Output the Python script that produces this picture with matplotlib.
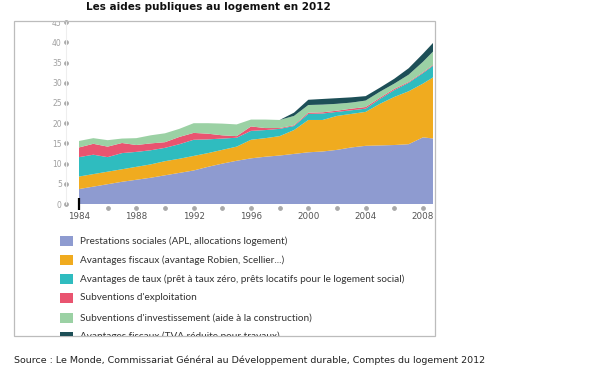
import matplotlib
matplotlib.use("Agg")
import matplotlib.pyplot as plt
from matplotlib.patches import Rectangle
from matplotlib.transforms import Bbox, TransformedBbox
import numpy as np

years = list(range(1984, 2010))
# cumulative tops
top_prest = [3.7, 4.3, 4.9, 5.5, 6.0, 6.5, 7.1, 7.7, 8.3, 9.2, 10.0, 10.7, 11.3, 11.7, 12.0,
             12.4, 12.8, 13.0, 13.4, 14.0, 14.4, 14.5, 14.6, 14.8, 16.5, 16.1]
top_fisc = [6.8, 7.4, 8.0, 8.6, 9.2, 9.8, 10.6, 11.2, 11.9, 12.6, 13.4, 14.2, 15.9, 16.3, 16.8,
            18.3, 20.8, 20.8, 21.8, 22.3, 22.8, 24.8, 26.5, 27.9, 29.8, 32.0]
top_taux = [11.6, 12.2, 11.6, 12.6, 12.9, 13.3, 13.9, 14.8, 15.9, 16.0, 16.2, 16.4, 18.1, 18.3, 18.6,
            19.3, 22.3, 22.4, 22.8, 23.2, 23.6, 26.0, 28.2, 30.0, 32.4, 35.0]
top_expl = [14.0, 14.9, 14.2, 15.1, 14.6, 15.0, 15.3, 16.6, 17.6, 17.4, 17.0, 16.8, 19.2, 18.8, 18.8,
            19.5, 22.6, 22.7, 23.1, 23.6, 24.0, 26.3, 28.5, 30.2, 32.6, 35.2]
top_inv = [15.6, 16.3, 15.8, 16.2, 16.3, 17.0, 17.5, 18.6, 20.0, 20.0, 19.9, 19.7, 20.9, 20.9, 20.8,
           21.8, 24.5, 24.6, 24.8, 25.1, 25.6, 27.8, 29.8, 32.0, 35.2, 38.8]
top_tva = [15.6, 16.3, 15.8, 16.2, 16.3, 17.0, 17.5, 18.6, 20.0, 20.0, 19.9, 19.7, 20.9, 20.9, 20.8,
           22.6, 25.8, 26.0, 26.2, 26.4, 26.7, 28.8, 31.0, 33.6, 37.2, 41.0]

labels = ["Prestations sociales (APL, allocations logement)",
          "Avantages fiscaux (avantage Robien, Scellier...)",
          "Avantages de taux (prêt à taux zéro, prêts locatifs pour le logement social)",
          "Subventions d'exploitation",
          "Subventions d'investissement (aide à la construction)",
          "Avantages fiscaux (TVA réduite pour travaux)"]
colors = ["#8e9bd0", "#f0ab1f", "#2fbcbf", "#e95470", "#9bd1a4", "#1d4f57"]

tops = np.array([top_prest, top_fisc, top_taux, top_expl, top_inv, top_tva])
layers = np.diff(np.vstack([np.zeros(len(years)), tops]), axis=0)

W, H = 592, 375
fig = plt.figure(figsize=(W / 100, H / 100), dpi=100)

def fx(px):
    return px / W

def fy(py):
    return 1 - py / H

x0, x1 = 79, 433
y0, y1 = 204, 204 - 45 * 4.04
ax = fig.add_axes([fx(x0), fy(y0), fx(x1) - fx(x0), fy(y1) - fy(y0)])
ax.stackplot(years, layers, colors=colors, linewidth=0)
ax.set_xlim(1984, 2008.7)
ax.set_ylim(0, 45)

for s in ["top", "right"]:
    ax.spines[s].set_visible(False)
ax.spines["bottom"].set_visible(False)
ax.spines["left"].set_position(("outward", 9.4))
ax.spines["left"].set_color("#eeeeee")
ax.spines["left"].set_linewidth(0.8)
ax.spines["bottom"].set_position(("outward", 3))

ax.set_yticks(range(0, 50, 5))
ax.set_yticklabels([str(v) for v in range(0, 50, 5)])
ax.tick_params(axis="y", length=0, pad=3, labelsize=5.5, labelcolor="#a0a0a0")
for t in ax.yaxis.get_major_ticks():
    t.tick1line.set_marker("o")
    t.tick1line.set_markersize(2.6)
    t.tick1line.set_markerfacecolor("#a8a8a8")
    t.tick1line.set_markeredgecolor("#a8a8a8")

xt = list(range(1984, 2010, 2))
ax.set_xticks(xt)
ax.set_xticklabels([str(v) if (v - 1984) % 4 == 0 else "" for v in xt])
ax.tick_params(axis="x", length=0, pad=3, labelsize=6.3, labelcolor="#555555")
for v, t in zip(xt, ax.xaxis.get_major_ticks()):
    t.tick1line.set_marker("o")
    t.tick1line.set_markersize(2.6)
    c = "#a8a8a8" if v != 1984 else (0, 0, 0, 0)
    t.tick1line.set_markerfacecolor(c)
    t.tick1line.set_markeredgecolor(c)

ax.plot([1984, 1984], [-1.5, 1.5], color="black", lw=1.6, clip_on=False, solid_capstyle="butt")

# frame
fl, ft, fr, fb = 14, 21, 435, 336
frame = Rectangle((fx(fl), fy(fb)), fx(fr) - fx(fl), fy(ft) - fy(fb), transform=fig.transFigure,
                  fill=False, edgecolor="#bcbcbc", linewidth=0.9)
fig.patches.append(frame)
clipbox = TransformedBbox(Bbox([[fx(fl), fy(fb)], [fx(fr), fy(ft)]]), fig.transFigure)
for lab in ax.get_yticklabels():
    lab.set_clip_box(clipbox)
    lab.set_clip_on(True)

# legend
rows = [241, 260, 279, 298, 318, 336.5]
for lab, col, ry in zip(labels, colors, rows):
    r = Rectangle((fx(60), fy(ry + 5)), fx(73) - fx(60), fy(ry - 5) - fy(ry + 5),
                  transform=fig.transFigure, facecolor=col, edgecolor="none")
    r.set_clip_box(clipbox)
    fig.patches.append(r)
    t = fig.text(fx(80), fy(ry), lab, fontsize=7.2, family="Lato", color="#333333",
                 va="center", ha="left")
    t.set_clip_box(clipbox)
    t.set_clip_on(True)

fig.text(fx(208), fy(7), "Les aides publiques au logement en 2012", fontsize=7.5,
         fontweight="bold", family="DejaVu Sans", color="#111111", ha="center", va="center")
fig.text(fx(14), fy(360), "Source : Le Monde, Commissariat Général au Développement durable, Comptes du logement 2012",
         fontsize=6.8, family="DejaVu Sans", color="#222222", ha="left", va="center")

fig.savefig("out.png", dpi=100)
